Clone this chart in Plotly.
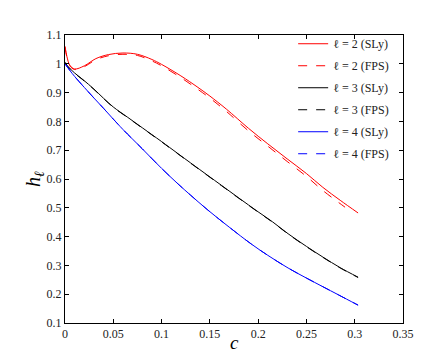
import plotly.graph_objects as go

# l = 2
c_l2_sly = [0, 0.002, 0.005, 0.01, 0.02, 0.032, 0.045, 0.06, 0.075, 0.09, 0.1, 0.12, 0.1377, 0.15,
            0.167, 0.19, 0.21, 0.23, 0.25, 0.267, 0.285, 0.3035]
h_l2_sly = [1.061, 1.025, 0.995, 0.982, 0.993, 1.018, 1.032, 1.0375, 1.033, 1.015, 0.998, 0.958, 0.918, 0.888,
            0.843, 0.776, 0.722, 0.67, 0.619, 0.571, 0.526, 0.482]
c_l2_fps = [0, 0.002, 0.005, 0.01, 0.02, 0.032, 0.045, 0.06, 0.075, 0.09, 0.1, 0.12, 0.1377, 0.15,
            0.167, 0.19, 0.21, 0.23, 0.25, 0.267, 0.29]
h_l2_fps = [1.058, 1.022, 0.993, 0.98, 0.99, 1.014, 1.028, 1.033, 1.029, 1.01, 0.993, 0.952, 0.911, 0.881,
            0.835, 0.767, 0.714, 0.661, 0.609, 0.56, 0.502]

# l = 3
c_l3_sly = [0, 0.002, 0.005, 0.01, 0.0186, 0.03, 0.04, 0.05, 0.065, 0.08, 0.09, 0.1, 0.117, 0.13, 0.148,
            0.162, 0.18, 0.2, 0.215, 0.231, 0.25, 0.267, 0.285, 0.3035]
h_l3_sly = [1.005, 0.995, 0.984, 0.968, 0.945, 0.912, 0.88, 0.85, 0.814, 0.778, 0.754, 0.73, 0.688, 0.656,
            0.612, 0.578, 0.534, 0.486, 0.451, 0.41, 0.366, 0.329, 0.292, 0.259]
c_l3_fps = c_l3_sly
h_l3_fps = [1.005, 0.994, 0.983, 0.967, 0.944, 0.911, 0.879, 0.849, 0.813, 0.777, 0.753, 0.729, 0.687, 0.655,
            0.611, 0.577, 0.533, 0.485, 0.45, 0.409, 0.365, 0.328, 0.291, 0.258]

# l = 4
c_l4_sly = [0, 0.005, 0.01, 0.02, 0.03, 0.04, 0.05, 0.06, 0.08, 0.1, 0.117, 0.13, 0.148, 0.17, 0.193,
            0.21, 0.231, 0.25, 0.267, 0.283, 0.3035]
h_l4_sly = [1.0, 0.977, 0.956, 0.918, 0.881, 0.845, 0.808, 0.772, 0.705, 0.637, 0.583, 0.544, 0.492, 0.433, 0.374,
            0.335, 0.291, 0.256, 0.226, 0.198, 0.162]
c_l4_fps = c_l4_sly
h_l4_fps = h_l4_sly

series = [
    ("ℓ = 2 (SLy)", c_l2_sly, h_l2_sly, "#ff0000", "solid"),
    ("ℓ = 2 (FPS)", c_l2_fps, h_l2_fps, "#ff0000", "dash"),
    ("ℓ = 3 (SLy)", c_l3_sly, h_l3_sly, "#000000", "solid"),
    ("ℓ = 3 (FPS)", c_l3_fps, h_l3_fps, "#000000", "dash"),
    ("ℓ = 4 (SLy)", c_l4_sly, h_l4_sly, "#0000ff", "solid"),
    ("ℓ = 4 (FPS)", c_l4_fps, h_l4_fps, "#0000ff", "dash"),
]

serif = "Times New Roman, Liberation Serif, serif"

fig = go.Figure()
for i, (name, cx, hy, col, dash) in enumerate(series):
    fig.add_trace(go.Scatter(
        x=cx, y=hy, name=name, mode="lines", line_shape="spline",
        legendgroup=str(i),
        line=dict(color=col, width=1, dash=dash),
    ))

axis_common = dict(
    showline=True, linecolor="#000000", linewidth=1, mirror="ticks",
    ticks="inside", ticklen=4, tickcolor="#000000",
    showgrid=False, zeroline=False,
    tickfont=dict(family=serif, size=12, color="#222"),
)
fig.update_xaxes(range=[0, 0.35], dtick=0.05, tick0=0, **axis_common)
fig.update_yaxes(range=[0.1, 1.1], dtick=0.1, tick0=0.1, **axis_common)

fig.add_annotation(text="<i>c</i>", xref="paper", yref="paper", x=0.5, y=-0.068,
                   showarrow=False, xanchor="center", yanchor="middle",
                   font=dict(family=serif, size=19, color="#000"))
fig.add_annotation(text="<i>h</i><sub><i>ℓ</i></sub>", xref="paper", yref="paper", x=-0.092, y=0.5,
                   showarrow=False, xanchor="center", yanchor="middle", textangle=-90,
                   font=dict(family=serif, size=20, color="#000"))

fig.update_layout(
    width=436, height=354,
    margin=dict(l=57, r=41, t=27, b=39),
    paper_bgcolor="white", plot_bgcolor="white",
    showlegend=True,
    legend=dict(x=0.675, y=1.02, xanchor="left", yanchor="top", bgcolor="rgba(0,0,0,0)",
                font=dict(family=serif, size=12, color="#222"), tracegroupgap=3,
                itemwidth=30),
)

fig.write_html("out.html")
